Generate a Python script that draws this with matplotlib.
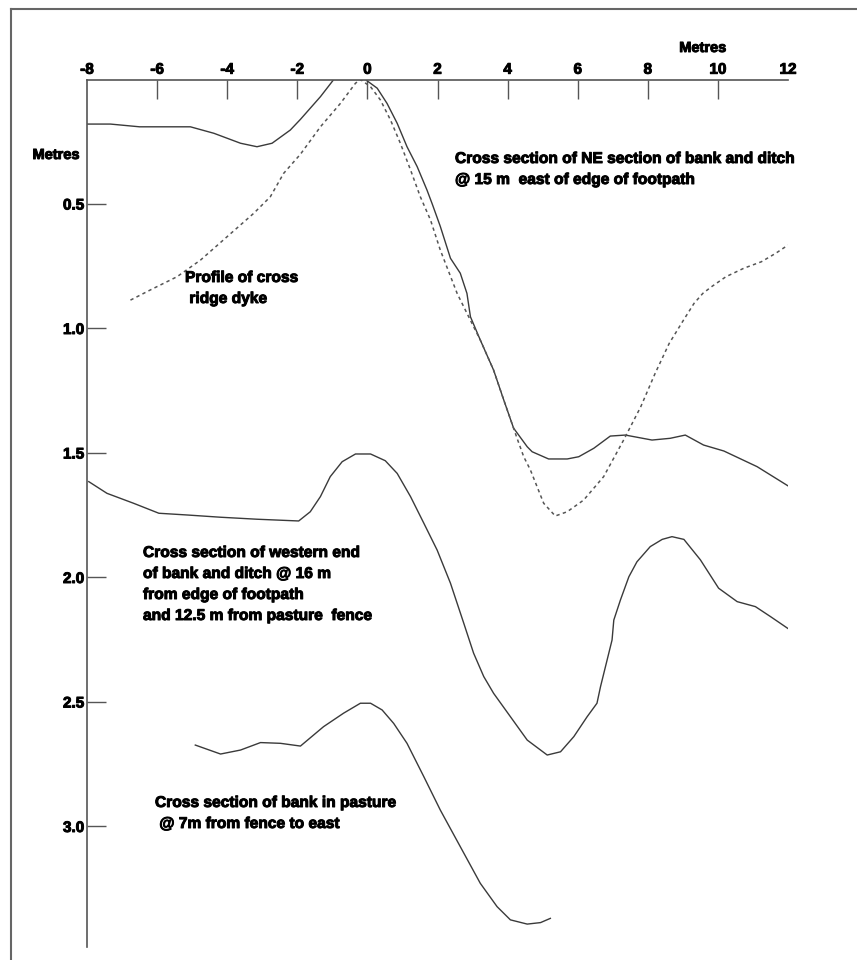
import matplotlib
matplotlib.use("Agg")
import matplotlib.pyplot as plt
import matplotlib.patheffects as pe
from matplotlib.lines import Line2D

# NE section of bank and ditch (solid)
ne_x = [-8.0, -7.33, -6.5, -5.05, -4.38, -3.62, -3.15, -2.72, -2.2, -1.91, -1.34, -0.96,
        -0.06, 0.28, 0.56, 0.85, 1.13, 1.42, 1.70, 1.85, 2.08, 2.37, 2.65, 2.84, 2.94,
        3.22, 3.6, 3.89, 4.17, 4.56, 4.70, 5.17, 5.70, 6.03, 6.46, 6.93, 7.36, 8.12,
        8.64, 9.07, 9.59, 10.17, 11.12, 12.0]
ne_y = [0.179, 0.179, 0.19, 0.19, 0.216, 0.256, 0.27, 0.256, 0.203, 0.16, 0.069, 0.0,
        0.0, 0.035, 0.096, 0.176, 0.27, 0.35, 0.444, 0.50, 0.59, 0.718, 0.778, 0.859, 0.953,
        1.046, 1.167, 1.287, 1.40, 1.475, 1.495, 1.524, 1.524, 1.515, 1.481, 1.432, 1.428, 1.448,
        1.441, 1.428, 1.468, 1.492, 1.555, 1.632]

# profile of cross ridge dyke (dotted)
dyke_x = [-6.76, -6.19, -5.43, -4.76, -4.0, -3.24, -2.77, -2.39, -1.91, -1.34, -0.77,
          -0.34, -0.2, 0.09, 0.37, 0.66, 0.94, 1.23, 1.51, 1.80, 2.08, 2.56, 2.89,
          3.22, 3.6, 3.89, 4.17, 4.27, 4.46, 4.65, 5.03, 5.36, 5.70, 6.17, 6.74, 7.31,
          7.80, 8.21, 8.61, 9.02, 9.32, 9.57, 9.82, 10.23, 10.74, 11.24, 11.65, 12.0]
dyke_y = [0.886, 0.845, 0.792, 0.725, 0.631, 0.537, 0.471, 0.377, 0.30, 0.19, 0.096,
          0.015, 0.0, 0.029, 0.082, 0.163, 0.256, 0.363, 0.471, 0.564, 0.685, 0.859, 0.953,
          1.046, 1.167, 1.287, 1.40, 1.441, 1.515, 1.568, 1.702, 1.753, 1.736, 1.689, 1.595, 1.448,
          1.314, 1.180, 1.060, 0.966, 0.899, 0.859, 0.832, 0.792, 0.758, 0.732, 0.698, 0.665]

# western end of bank and ditch
west_x = [-7.95, -7.43, -6.67, -5.95, -5.14, -4.19, -3.15, -1.96, -1.63, -1.34, -1.06,
          -0.72, -0.34, 0.09, 0.51, 0.85, 1.23, 1.61, 1.99, 2.37, 2.75, 3.03, 3.32, 3.6,
          4.08, 4.56, 5.13, 5.51, 5.89, 6.27, 6.55, 6.65, 6.98, 7.03, 7.22, 7.46, 7.69,
          8.07, 8.41, 8.69, 9.03, 9.50, 10.02, 10.55, 11.07, 11.5, 12.0]
west_y = [1.615, 1.662, 1.702, 1.742, 1.749, 1.758, 1.766, 1.773, 1.736, 1.675, 1.595,
          1.535, 1.504, 1.504, 1.531, 1.582, 1.675, 1.782, 1.89, 2.023, 2.184, 2.304, 2.398, 2.465,
          2.559, 2.653, 2.713, 2.70, 2.639, 2.559, 2.505, 2.439, 2.251, 2.171, 2.09, 1.997, 1.937,
          1.876, 1.847, 1.836, 1.847, 1.929, 2.043, 2.097, 2.117, 2.157, 2.205]

# bank in pasture
past_x = [-4.91, -4.19, -3.62, -3.05, -2.48, -1.91, -1.25, -0.68, -0.2, 0.09, 0.42,
          0.75, 1.13, 1.61, 2.08, 2.65, 3.22, 3.70, 4.08, 4.56, 4.94, 5.22]
past_y = [2.673, 2.709, 2.693, 2.663, 2.666, 2.677, 2.599, 2.545, 2.505, 2.505, 2.532,
          2.586, 2.666, 2.80, 2.934, 3.081, 3.228, 3.322, 3.375, 3.392, 3.386, 3.369]

x_ticks = [-8, -6, -4, -2, 0, 2, 4, 6, 8, 10, 12]
y_ticks = [0.5, 1.0, 1.5, 2.0, 2.5, 3.0]
y_labels = ['0.5', '1.0', '1.5', '2.0', '2.5', '3.0']

plt.rcParams['font.family'] = ['Liberation Sans', 'DejaVu Sans']
plt.rcParams['font.weight'] = 'bold'

fig = plt.figure(figsize=(8.57, 9.60), dpi=100)
ax = fig.add_axes([87 / 857, 13 / 960, 701 / 857, 867.5 / 960])

line_c = '#3a3a3a'
ax.plot(ne_x, ne_y, color=line_c, lw=1.0)
ax.plot(dyke_x, dyke_y, color='#555555', lw=1.1, linestyle=(0, (2.2, 2.2)))
ax.plot(west_x, west_y, color=line_c, lw=1.0)
ax.plot(past_x, past_y, color=line_c, lw=1.0)

ax.set_xlim(-8, 12)
ax.set_ylim(3.484, 0)

for s in ['right', 'bottom']:
    ax.spines[s].set_visible(False)
for s in ['top', 'left']:
    ax.spines[s].set_color('#555555')
    ax.spines[s].set_linewidth(1.2)

heavy = [pe.withStroke(linewidth=0.7, foreground='black')]

ax.xaxis.tick_top()
ax.set_xticks(x_ticks)
ax.set_xticklabels([str(t) for t in x_ticks])
ax.tick_params(axis='x', direction='in', length=14, width=1.0, color='#555555',
               pad=2, labelsize=11)
ax.xaxis.get_major_ticks()[-1].tick2line.set_visible(False)
ax.xaxis.get_major_ticks()[0].tick2line.set_visible(False)

ax.set_yticks(y_ticks)
ax.set_yticklabels(y_labels)
ax.tick_params(axis='y', direction='in', length=14, width=1.0, color='#555555',
               pad=2, labelsize=11)
for t in ax.get_xticklabels() + ax.get_yticklabels():
    t.set_path_effects(heavy)

# annotations (pixel coordinates from top-left)
def label(xp, yp, txt, size=11.2, ha='left', va='top'):
    fig.text(xp / 857, 1 - yp / 960, txt, fontsize=size, ha=ha, va=va,
             linespacing=1.5, path_effects=heavy)

label(703, 48, 'Metres', size=10.5, ha='center', va='center')
label(80, 155, 'Metres', size=10.5, ha='right', va='center')

label(455, 151, 'Cross section of NE section of bank and ditch\n@ 15 m  east of edge of footpath')
label(185, 270, 'Profile of cross\n ridge dyke')
label(143, 545, 'Cross section of western end\nof bank and ditch @ 16 m\nfrom edge of footpath\nand 12.5 m from pasture  fence')
label(155, 795, 'Cross section of bank in pasture\n @ 7m from fence to east')

# page frame
fig.add_artist(Line2D([10.5 / 857, 10.5 / 857], [0, 1 - 9 / 960], color='#666666', lw=1.5))
fig.add_artist(Line2D([10.5 / 857, 1], [1 - 9 / 960, 1 - 9 / 960], color='#666666', lw=1.5))

fig.savefig('out.png', dpi=100)
